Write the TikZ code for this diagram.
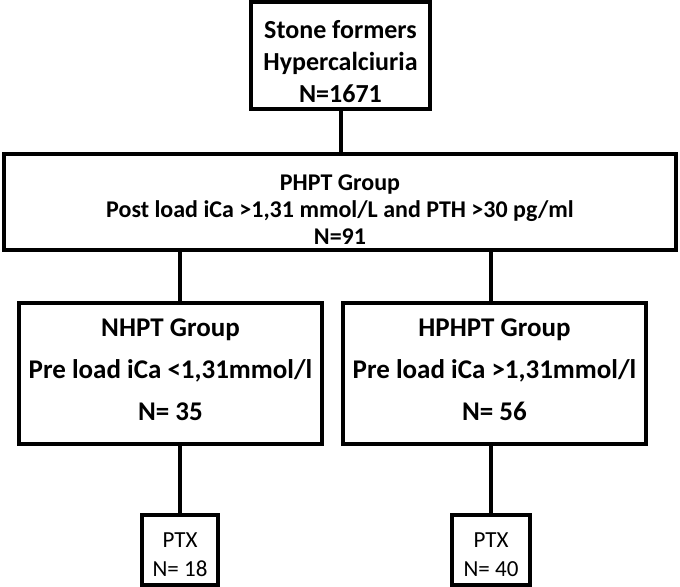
\documentclass[tikz,border=0pt]{standalone}
\usepackage{fontspec}
\setmainfont{Carlito}
\newcommand{\lowerby}[1]{\rule{0pt}{#1}}
\newcommand{\raiseby}[1]{\rule[-#1]{0pt}{#1}}
\begin{document}
\begin{tikzpicture}[x=0.5pt, y=-0.5pt,
                    box/.style={
                    draw,
                    line width=2pt,
                    text centered,
                    inner sep=0pt,
                    align=center,
                    anchor=center,
                    },
                    link/.style={
                    line width=2pt,
                    } ]

\useasboundingbox (0,0) rectangle (680,587);

\draw
(340.5,55.5) node[box, minimum width=89.5pt, minimum height=53.5pt, font=\fontsize{13}{16}\selectfont\bfseries] (stone) {\lowerby{15pt}Stone formers\\Hypercalciuria\\N=1671}
(340,202) node[box, minimum width=336pt, minimum height=48pt, font=\fontsize{12}{13.5}\selectfont\bfseries] (phpt) {\lowerby{16pt}PHPT Group\\Post load iCa >1,31 mmol/L and PTH >30 pg/ml\\N=91}
(170.5,374) node[box, minimum width=151.5pt, minimum height=70.5pt, font=\fontsize{13.5}{21}\selectfont\bfseries] (nhpt) {NHPT Group\\Pre load iCa <1,31mmol/l\\N= 35\raiseby{4pt}}
(494.5,374) node[box, minimum width=151.5pt, minimum height=70.5pt, font=\fontsize{13.5}{21}\selectfont\bfseries] (hphpt) {HPHPT Group\\Pre load iCa >1,31mmol/l\\N= 56\raiseby{4pt}}
(180,550) node[box, minimum width=38pt, minimum height=35pt, font=\fontsize{11.5}{14.5}\selectfont] (ptxn) {\lowerby{12.5pt}PTX\\N= 18}
(491,550) node[box, minimum width=39pt, minimum height=35pt, font=\fontsize{11.5}{14.5}\selectfont] (ptxh) {\lowerby{12.5pt}PTX\\N= 40}
;

\draw[link] (stone.south) -- (stone.south |- phpt.north);
\draw[link] (phpt.south -| ptxn.north) -- (nhpt.north -| ptxn.north);
\draw[link] (phpt.south -| ptxh.north) -- (hphpt.north -| ptxh.north);
\draw[link] (nhpt.south -| ptxn.north) -- (ptxn.north);
\draw[link] (hphpt.south -| ptxh.north) -- (ptxh.north);

\end{tikzpicture}
\end{document}
